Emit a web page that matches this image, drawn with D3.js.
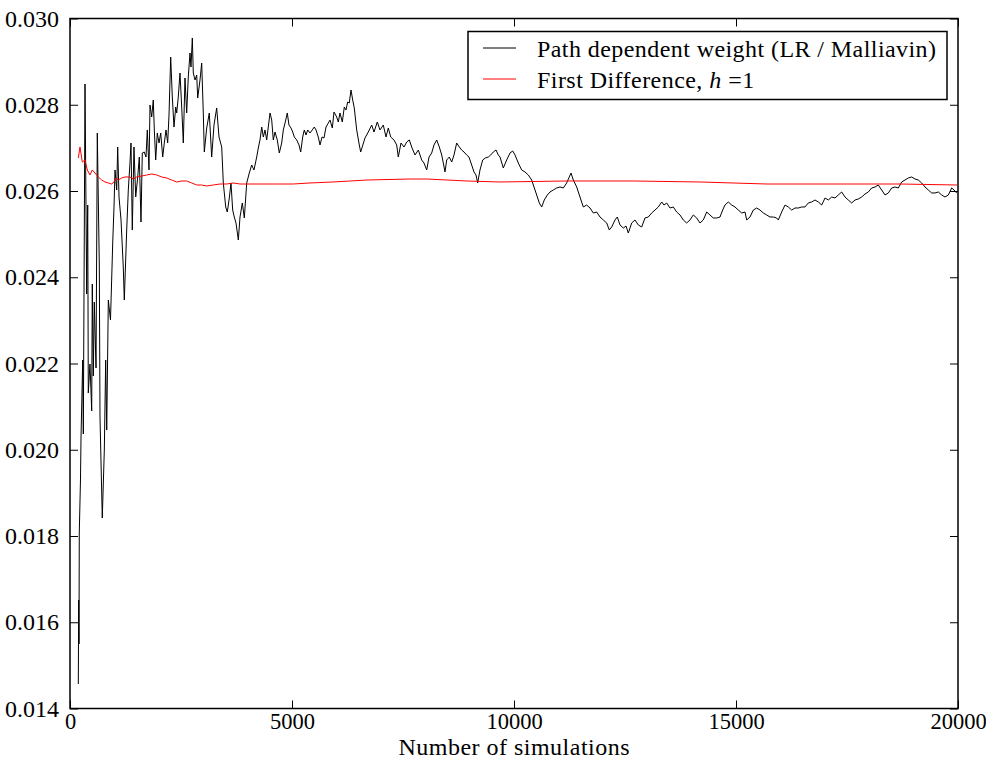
<!DOCTYPE html>
<html><head><meta charset="utf-8">
<script src="https://cdn.jsdelivr.net/npm/d3@7"></script>
<style>
body{margin:0;background:#fff}
svg{display:block}
text{font-family:"Liberation Serif","Times New Roman",serif;fill:#000}
</style>
</head><body>
<svg id="chart" width="986" height="761"></svg>
<script>
// ---- data ----
const xTickValues = [0, 5000, 10000, 15000, 20000];
const yTickValues = [0.014, 0.016, 0.018, 0.020, 0.022, 0.024, 0.026, 0.028, 0.030];
const xLabel = "Number of simulations";
const seriesNames = ["Path dependent weight (LR / Malliavin)", "First Difference, "];

// [number of simulations, estimate]
const lrWeight = [
[187,0.014568],[196,0.016516],[203,0.015496],[209,0.018070],[236,0.019299],[248,0.020272],[286,0.022081],[300,0.020365],
[338,0.028481],[376,0.023612],[399,0.025675],[412,0.021316],[450,0.021988],[489,0.020899],[502,0.023843],[525,0.021710],
[547,0.023426],[586,0.021896],[615,0.027345],[660,0.024284],[676,0.020759],[727,0.018417],[773,0.019994],[804,0.022081],
[827,0.020458],[863,0.023472],[912,0.023009],[962,0.024794],[991,0.025629],[1014,0.026487],[1052,0.026023],[1074,0.027020],
[1104,0.025861],[1149,0.025328],[1200,0.024238],[1223,0.023472],[1277,0.025096],[1313,0.026023],[1351,0.026649],[1374,0.027113],
[1403,0.025096],[1441,0.027020],[1480,0.025861],[1525,0.026325],[1561,0.026788],[1599,0.025281],[1628,0.026881],[1673,0.026904],
[1712,0.026788],[1741,0.027415],[1779,0.026487],[1802,0.027994],[1840,0.027716],[1876,0.028110],[1899,0.027415],[1930,0.026719],
[1966,0.027345],[2005,0.027113],[2043,0.027345],[2088,0.026788],[2124,0.027113],[2162,0.027415],[2200,0.027113],[2230,0.027762],
[2268,0.029107],[2304,0.028180],[2342,0.027484],[2381,0.027948],[2403,0.027809],[2439,0.028180],[2477,0.028736],[2516,0.027948],
[2552,0.027113],[2590,0.028620],[2628,0.027809],[2664,0.028644],[2703,0.029200],[2725,0.028875],[2755,0.029548],[2777,0.028736],
[2815,0.028574],[2854,0.028690],[2876,0.028157],[2928,0.028574],[2966,0.028968],[3002,0.027809],[3025,0.026904],[3079,0.027461],
[3137,0.027809],[3191,0.026788],[3243,0.027530],[3304,0.027925],[3356,0.027252],[3417,0.027020],[3453,0.026186],[3507,0.025629],
[3543,0.025513],[3588,0.025838],[3626,0.026186],[3664,0.025559],[3700,0.025397],[3739,0.025258],[3791,0.024864],[3829,0.025397],
[3881,0.025722],[3926,0.025374],[3980,0.026186],[4038,0.026417],[4092,0.026603],[4144,0.026487],[4205,0.026788],[4241,0.026997],
[4279,0.027183],[4318,0.027484],[4354,0.027252],[4392,0.027415],[4430,0.027183],[4466,0.027484],[4505,0.027809],[4543,0.027646],
[4579,0.027183],[4617,0.027368],[4669,0.027183],[4714,0.026881],[4768,0.027113],[4804,0.027415],[4849,0.027600],[4894,0.027809],
[4932,0.027530],[4977,0.027461],[5016,0.027368],[5052,0.027252],[5106,0.027183],[5158,0.027067],[5196,0.026904],[5241,0.027252],
[5277,0.027415],[5315,0.027299],[5354,0.027415],[5405,0.027345],[5457,0.027415],[5502,0.027484],[5541,0.027415],[5592,0.027252],
[5631,0.027067],[5676,0.027252],[5721,0.027229],[5766,0.027484],[5818,0.027577],[5856,0.027646],[5908,0.027461],[5946,0.027832],
[6007,0.027716],[6043,0.027600],[6081,0.027809],[6133,0.027600],[6178,0.027948],[6216,0.027878],[6254,0.028064],[6290,0.028041],
[6329,0.028342],[6367,0.028110],[6403,0.027925],[6457,0.027415],[6516,0.027067],[6547,0.026904],[6644,0.027229],[6718,0.027368],
[6795,0.027530],[6847,0.027368],[6921,0.027600],[6982,0.027415],[7056,0.027530],[7117,0.027252],[7169,0.027461],[7223,0.027252],
[7297,0.027183],[7358,0.027067],[7394,0.026788],[7455,0.027113],[7523,0.027020],[7583,0.027136],[7642,0.027183],[7696,0.027020],
[7770,0.026835],[7845,0.026951],[7921,0.026719],[7973,0.026649],[8034,0.026487],[8086,0.026788],[8146,0.026881],[8198,0.027067],
[8259,0.027183],[8318,0.027020],[8372,0.026835],[8408,0.026649],[8446,0.026441],[8484,0.026719],[8543,0.026788],[8597,0.026672],
[8649,0.026835],[8709,0.027113],[8768,0.027020],[8822,0.026951],[8874,0.026904],[8934,0.026835],[8986,0.026788],[9047,0.026603],
[9099,0.026441],[9144,0.026371],[9182,0.026186],[9234,0.026487],[9295,0.026719],[9354,0.026765],[9421,0.026788],[9475,0.026835],
[9534,0.026904],[9595,0.026951],[9646,0.026835],[9685,0.026788],[9759,0.026533],[9835,0.026719],[9910,0.026881],[9971,0.026928],
[10023,0.026835],[10097,0.026649],[10173,0.026487],[10248,0.026441],[10322,0.026371],[10399,0.026255],[10435,0.026139],[10511,0.025907],
[10570,0.025722],[10624,0.025629],[10682,0.025791],[10750,0.025907],[10811,0.025977],[10885,0.026023],[10962,0.026070],[11036,0.026093],
[11110,0.026070],[11187,0.026186],[11245,0.026325],[11284,0.026417],[11336,0.026255],[11412,0.026093],[11486,0.025861],[11561,0.025629],
[11637,0.025675],[11712,0.025606],[11786,0.025490],[11862,0.025513],[11937,0.025397],[12011,0.025328],[12088,0.025258],[12146,0.025096],
[12200,0.025165],[12275,0.025328],[12327,0.025397],[12387,0.025212],[12462,0.025142],[12523,0.025188],[12574,0.025026],[12651,0.025258],
[12725,0.025328],[12800,0.025212],[12876,0.025165],[12950,0.025374],[13025,0.025397],[13101,0.025490],[13176,0.025559],[13250,0.025629],
[13327,0.025745],[13378,0.025675],[13439,0.025722],[13514,0.025606],[13588,0.025629],[13664,0.025513],[13739,0.025444],[13813,0.025328],
[13889,0.025258],[13964,0.025328],[14038,0.025444],[14115,0.025374],[14189,0.025258],[14264,0.025328],[14340,0.025513],[14414,0.025444],
[14489,0.025374],[14565,0.025374],[14640,0.025397],[14700,0.025559],[14752,0.025675],[14826,0.025745],[14903,0.025675],[14977,0.025629],
[15052,0.025559],[15128,0.025490],[15203,0.025513],[15241,0.025328],[15315,0.025397],[15390,0.025559],[15466,0.025606],[15541,0.025559],
[15615,0.025490],[15691,0.025444],[15766,0.025397],[15840,0.025397],[15916,0.025374],[15953,0.025328],[16029,0.025513],[16104,0.025675],
[16178,0.025629],[16254,0.025559],[16329,0.025606],[16403,0.025606],[16480,0.025629],[16554,0.025629],[16628,0.025722],[16705,0.025745],
[16779,0.025791],[16854,0.025745],[16930,0.025675],[17005,0.025838],[17079,0.025791],[17155,0.025861],[17230,0.025838],[17304,0.025907],
[17380,0.025977],[17455,0.025861],[17529,0.025791],[17606,0.025722],[17680,0.025791],[17754,0.025814],[17831,0.025861],[17905,0.025930],
[17980,0.025977],[18056,0.026070],[18131,0.026093],[18205,0.026139],[18281,0.026023],[18356,0.025907],[18430,0.025954],[18507,0.026070],
[18581,0.026093],[18655,0.026070],[18732,0.026209],[18806,0.026255],[18880,0.026302],[18957,0.026325],[19032,0.026278],[19106,0.026255],
[19182,0.026186],[19257,0.026093],[19331,0.026023],[19408,0.025954],[19482,0.025954],[19556,0.025977],[19633,0.025907],[19707,0.025861],
[19782,0.025907],[19858,0.026070],[19910,0.026023],[19970,0.025954]
];

const firstDiff = [
[187,0.026765],[225,0.027020],[277,0.026672],[338,0.026719],[390,0.026487],[450,0.026371],[502,0.026487],[563,0.026417],
[637,0.026325],[714,0.026255],[788,0.026209],[863,0.026186],[939,0.026162],[991,0.026209],[1036,0.026302],[1088,0.026255],
[1164,0.026302],[1239,0.026325],[1351,0.026325],[1426,0.026278],[1502,0.026325],[1615,0.026348],[1727,0.026371],[1840,0.026394],
[1953,0.026371],[2065,0.026325],[2178,0.026302],[2290,0.026255],[2403,0.026209],[2516,0.026232],[2628,0.026232],[2741,0.026186],
[2854,0.026139],[2966,0.026139],[3079,0.026116],[3227,0.026139],[3378,0.026162],[3529,0.026162],[3678,0.026186],[3829,0.026162],
[4279,0.026162],[4655,0.026162],[5029,0.026162],[5405,0.026186],[5923,0.026209],[6689,0.026255],[7658,0.026278],[8041,0.026278],
[8941,0.026232],[9685,0.026209],[11194,0.026232],[12680,0.026232],[14189,0.026209],[15698,0.026162],[17185,0.026162],[18694,0.026162],
[19977,0.026139]
];

// ---- layout ----
const plot = {left: 70, right: 958, top: 18.5, bottom: 708.5};
const yFont = 24, xFont = 22.5;
const svg = d3.select("#chart");

const x = d3.scaleLinear().domain([0, 20000]).range([plot.left, plot.right]);
const y = d3.scaleLinear().domain([0.014, 0.030]).range([plot.bottom, plot.top]);

svg.append("rect").attr("width", 986).attr("height", 761).attr("fill", "#fff");

// lines
const line = d3.line().x(d => x(d[0])).y(d => y(d[1]));
svg.append("clipPath").attr("id", "clip").append("rect")
  .attr("x", plot.left).attr("y", plot.top)
  .attr("width", plot.right - plot.left).attr("height", plot.bottom - plot.top);

const g = svg.append("g").attr("clip-path", "url(#clip)");
g.append("path").datum(lrWeight).attr("d", line)
  .attr("fill", "none").attr("stroke", "#000").attr("stroke-width", 1).attr("stroke-linejoin", "round");
g.append("path").datum(firstDiff).attr("d", line)
  .attr("fill", "none").attr("stroke", "#ff0000").attr("stroke-width", 1).attr("stroke-linejoin", "round");

// axes (ticks inward on all sides)
function styleAxis(fs) {
  return sel => {
    sel.select(".domain").remove();
    sel.selectAll(".tick line").attr("stroke", "#000").attr("stroke-width", 1);
    sel.selectAll("text").attr("font-size", fs).attr("font-family", '"Liberation Serif","Times New Roman",serif').attr("fill", "#000");
  };
}
svg.append("g").attr("transform", `translate(${plot.left},0)`)
  .call(d3.axisLeft(y).tickValues(yTickValues).tickSize(-8).tickPadding(11).tickFormat(d3.format(".3f")))
  .call(styleAxis(yFont));
svg.append("g").attr("transform", `translate(${plot.right},0)`)
  .call(d3.axisRight(y).tickValues(yTickValues).tickSize(-8).tickFormat(""))
  .call(styleAxis(yFont));
svg.append("g").attr("transform", `translate(0,${plot.bottom})`)
  .call(d3.axisBottom(x).tickValues(xTickValues).tickSize(-8).tickPadding(5).tickFormat(d3.format("d")))
  .call(styleAxis(xFont));
svg.append("g").attr("transform", `translate(0,${plot.top})`)
  .call(d3.axisTop(x).tickValues(xTickValues).tickSize(-8).tickFormat(""))
  .call(styleAxis(xFont));

// frame
svg.append("rect").attr("x", plot.left).attr("y", plot.top)
  .attr("width", plot.right - plot.left).attr("height", plot.bottom - plot.top)
  .attr("fill", "none").attr("stroke", "#000").attr("stroke-width", 1.5);

// x label
svg.append("text").attr("x", (plot.left + plot.right) / 2).attr("y", 755)
  .attr("text-anchor", "middle").attr("font-size", yFont)
  .attr("textLength", 231).attr("lengthAdjust", "spacing")
  .text(xLabel);

// legend
const lg = svg.append("g");
lg.append("rect").attr("x", 468).attr("y", 31.5).attr("width", 479).attr("height", 68)
  .attr("fill", "#fff").attr("stroke", "#000").attr("stroke-width", 1.5);
const colors = ["#000", "#ff0000"];
const rowsY = [48, 79];
seriesNames.forEach((name, i) => {
  lg.append("line").attr("x1", 483).attr("x2", 516).attr("y1", rowsY[i]).attr("y2", rowsY[i])
    .attr("stroke", colors[i]).attr("stroke-width", 1);
  const t = lg.append("text").attr("x", 537).attr("y", rowsY[i] + 8.5).attr("font-size", yFont);
  if (i === 0) {
    t.attr("textLength", 399).attr("lengthAdjust", "spacing").text(name);
  } else {
    t.attr("letter-spacing", 0.45);
    t.append("tspan").text(name);
    t.append("tspan").attr("font-style", "italic").text("h");
    t.append("tspan").text(" =1");
  }
});
</script>
</body></html>
